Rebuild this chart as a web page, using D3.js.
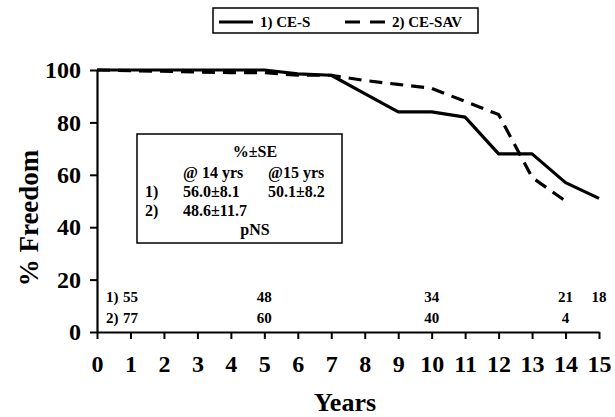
<!DOCTYPE html>
<html>
<head>
<meta charset="utf-8">
<script src="https://cdn.jsdelivr.net/npm/d3@7"></script>
<style>
  body { margin: 0; background: #fff; }
  svg { display: block; font-family: "Liberation Serif", "Times New Roman", serif; font-weight: bold; }
</style>
</head>
<body>
<div id="chart"></div>
<script>
// survival curves
var years = d3.range(0, 16);
var yTicks = [0, 20, 40, 60, 80, 100];
var ceS = [[0,100],[5,100],[6,98.5],[7,98],[8,91],[9,84],[10,84],[11,82],[12,68],[13,68],[14,57],[15,51]];
var ceSav = [[0,100],[4,99],[5,99],[6,98],[7,98],[8,96],[9,94.5],[10,93],[11,88],[12,83],[13,59],[14,50]];

// patients at risk
var riskYears1 = [1, 5, 10, 14, 15];
var risk1 = [55, 48, 34, 21, 18];
var riskYears2 = [1, 5, 10, 14];
var risk2 = [77, 60, 40, 4];

var seLines = [
  ["", "@ 14 yrs", "@15 yrs"],
  ["1)", "56.0\u00b18.1", "50.1\u00b18.2"],
  ["2)", "48.6\u00b111.7", ""]
];

const width = 615, height = 417;
const svg = d3.select('#chart').append('svg').attr('width', width).attr('height', height);

const x = d3.scaleLinear().domain([0, 15]).range([97, 599]);
const y = d3.scaleLinear().domain([0, 100]).range([332, 70]);

// axes
const xAxis = svg.append('g').attr('transform', 'translate(0,' + y(0) + ')')
  .call(d3.axisBottom(x).tickValues(years).tickSize(7).tickPadding(16).tickSizeOuter(0));
const yAxis = svg.append('g').attr('transform', 'translate(' + x(0) + ',0)')
  .call(d3.axisLeft(y).tickValues(yTicks).tickSize(7).tickPadding(6).tickSizeOuter(0));
[xAxis, yAxis].forEach(function(a) {
  a.select('.domain').attr('stroke', '#000').attr('stroke-width', 2.2);
  a.selectAll('.tick line').attr('stroke', '#000').attr('stroke-width', 2);
  a.selectAll('text').attr('fill', '#000').style('font-size', '24px').style('font-weight', 'bold')
    .style('font-family', '"Liberation Serif", serif');
});
// ticks on x point down
xAxis.selectAll('.tick line').attr('y1', 0).attr('y2', 7);
yAxis.selectAll('.tick text').attr('x', -16);

svg.append('text').attr('x', 345).attr('y', 411).attr('text-anchor', 'middle')
  .style('font-size', '26px').text('Years');
svg.append('text').attr('transform', 'translate(38,218) rotate(-90)').attr('text-anchor', 'middle')
  .style('font-size', '27px').text('% Freedom');

// curves
const line = d3.line().x(d => x(d[0])).y(d => y(d[1]));
svg.append('path').datum(ceS).attr('d', line).attr('fill', 'none')
  .attr('stroke', '#000').attr('stroke-width', 3.2).attr('stroke-linejoin', 'round');
svg.append('path').datum(ceSav).attr('d', line).attr('fill', 'none')
  .attr('stroke', '#000').attr('stroke-width', 3.2).attr('stroke-dasharray', '13,8');

// at risk numbers
const risk = svg.append('g').style('font-size', '15px');
risk.selectAll('.r1').data(risk1).enter().append('text')
  .attr('x', (d, i) => x(riskYears1[i])).attr('y', 302).attr('text-anchor', 'middle').text(d => d);
risk.selectAll('.r2').data(risk2).enter().append('text')
  .attr('x', (d, i) => x(riskYears2[i])).attr('y', 323).attr('text-anchor', 'middle').text(d => d);
risk.append('text').attr('x', x(1) - 12).attr('y', 302).attr('text-anchor', 'end').text('1)');
risk.append('text').attr('x', x(1) - 12).attr('y', 323).attr('text-anchor', 'end').text('2)');

// inset box
const box = svg.append('g').style('font-size', '16px');
box.append('rect').attr('x', 137).attr('y', 134).attr('width', 205).attr('height', 109)
  .attr('fill', '#fff').attr('stroke', '#000').attr('stroke-width', 1.5);
box.append('text').attr('x', 255).attr('y', 157).attr('text-anchor', 'middle').text('%\u00b1SE');
const cols = [145, 183, 268];
seLines.forEach(function(row, r) {
  row.forEach(function(t, c) {
    box.append('text').attr('x', cols[c]).attr('y', 178 + r * 19).text(t);
  });
});
box.append('text').attr('x', 255).attr('y', 235).attr('text-anchor', 'middle').text('pNS');

// legend
const leg = svg.append('g').style('font-size', '15px');
leg.append('rect').attr('x', 213).attr('y', 8).attr('width', 265).attr('height', 25)
  .attr('fill', '#fff').attr('stroke', '#000').attr('stroke-width', 1.5);
leg.append('line').attr('x1', 219).attr('x2', 253).attr('y1', 22).attr('y2', 22)
  .attr('stroke', '#000').attr('stroke-width', 3);
leg.append('text').attr('x', 260).attr('y', 27).text('1) CE-S');
leg.append('line').attr('x1', 345).attr('x2', 386).attr('y1', 22).attr('y2', 22)
  .attr('stroke', '#000').attr('stroke-width', 3).attr('stroke-dasharray', '15,10');
leg.append('text').attr('x', 392).attr('y', 27).text('2) CE-SAV');
</script>
</body>
</html>
